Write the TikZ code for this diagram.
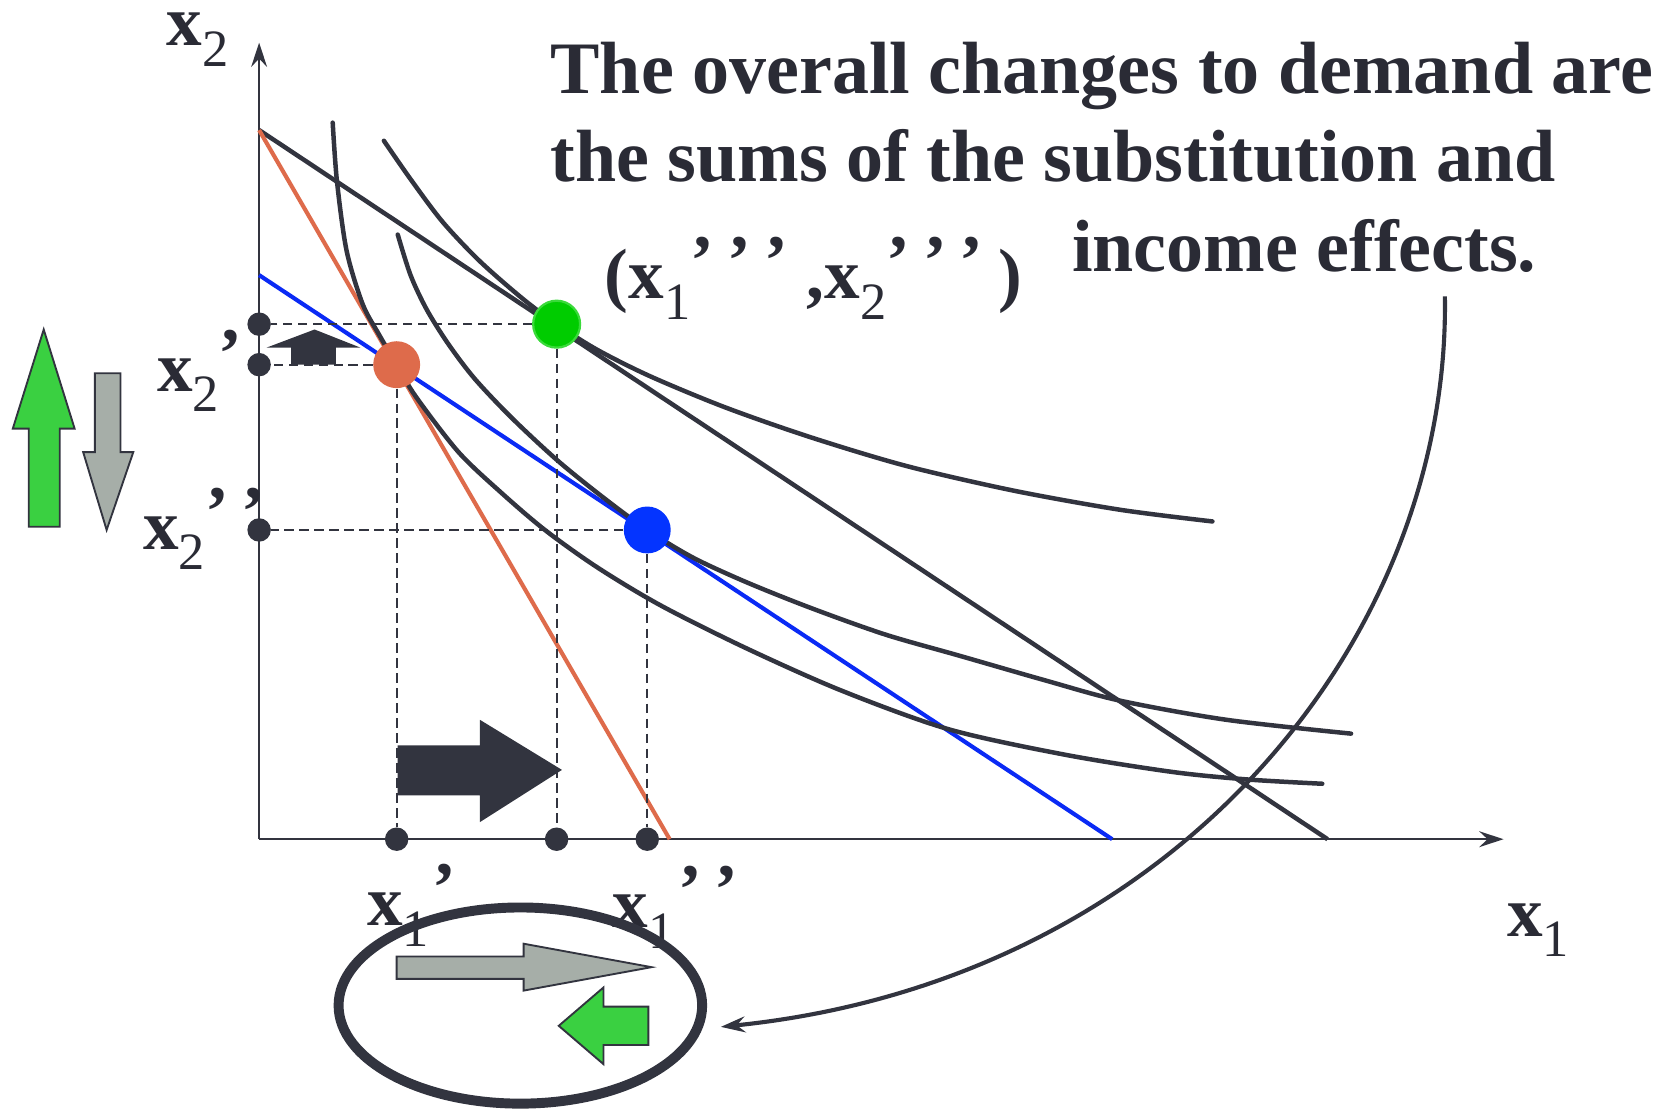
\documentclass[tikz,border=0pt]{standalone}
\usepackage{fontspec}
\setmainfont{Liberation Serif}
\usetikzlibrary{arrows.meta,shapes.geometric}
\definecolor{ink}{HTML}{32343F}
\definecolor{txtc}{HTML}{2A2B35}
\definecolor{orng}{HTML}{DE6B4B}
\definecolor{bline}{HTML}{0A2AF5}
\definecolor{bdot}{HTML}{0434FF}
\definecolor{gdot}{HTML}{00CC00}
\definecolor{gring}{HTML}{3BDA3B}
\definecolor{garrow}{HTML}{3AD041}
\definecolor{grayarrow}{HTML}{A6AEA8}
\newcommand\lbx[1]{\textbf{x}\raisebox{-11pt}{\fontsize{28}{28}\selectfont\mdseries #1}}
\newcommand\myprime{\raisebox{7.5pt}{\textbf{’}}}
\begin{document}
\begin{tikzpicture}[x=0.02cm,y=-0.02cm,
  axis/.style={ink, line width=1.2pt},
  bud/.style={line width=2.2pt},
  icurve/.style={ink, line width=2.4pt, line cap=round},
  guide/.style={ink, line width=1.1pt, dash pattern=on 5pt off 3pt},
  adot/.style={circle, fill=ink, inner sep=0pt, minimum size=0.44cm},
  bigpt/.style={circle, inner sep=0pt, minimum size=0.88cm},
  lbl/.style={inner sep=0pt, anchor=base west, font=\fontsize{38}{46}\selectfont\bfseries, text=txtc},
  txt/.style={inner sep=0pt, anchor=base west, font=\fontsize{39.5}{48}\selectfont\bfseries, text=txtc},
  blk/.style={draw=ink, line width=1pt, line join=miter},
  tip/.style={-{Stealth[length=13pt,width=8.5pt,inset=4.5pt]}}]
\useasboundingbox (0,0) rectangle (1568,1040);

% axes
\coordinate (O) at (243,787);
\coordinate (Ytop) at (243,40);
\coordinate (Xend) at (1410,787);
\draw[axis, tip] (O) -- (Ytop);
\draw[axis, tip] (O) -- (Xend);

% budget lines
\coordinate (A) at (243,122);
\coordinate (Bk) at (1245,787);
\coordinate (Bo) at (628,787);
\coordinate (C) at (243,258);
\coordinate (Cb) at (1043,787);
\draw[bud, ink, line width=2.4pt] (A) -- (Bk);
\draw[bud, orng] (A) -- (Bo);
\draw[bud, bline] (C) -- (Cb);

% indifference curves
\draw[icurve] plot[smooth] coordinates {(312,115) (316,170) (325,235) (340,285) (355,313) (372,342) (390,372) (430,424) (470,462) (511,497) (560,532) (620,568) (700,608) (790,648) (890,684) (1000,708) (1100,724) (1170,731) (1240,735)};
\draw[icurve] plot[smooth] coordinates {(373,220) (385,258) (400,290) (420,322) (445,355) (480,392) (523,432) (565,466) (607,497) (650,523) (700,546) (760,570) (830,595) (900,615) (980,638) (1050,657) (1150,675) (1267,688)};
\draw[icurve] plot[smooth] coordinates {(360,132) (385,168) (415,208) (450,245) (490,280) (522,304) (560,328) (610,353) (680,382) (760,410) (850,437) (950,460) (1050,478) (1137,489)};

% axis dots
\node[adot] (y3) at (243,304) {};
\node[adot] (y1) at (243,342) {};
\node[adot] (y2) at (243,497) {};
\node[adot] (x1) at (372,787) {};
\node[adot] (x3) at (522,787) {};
\node[adot] (x2) at (607,787) {};

% big points
\node[bigpt, fill=gdot, draw=gring, line width=1.2pt] (pG) at (522,304) {};
\node[bigpt, fill=orng] (pR) at (372,342) {};
\node[bigpt, fill=bdot] (pB) at (607,497) {};

% guide lines
\draw[guide] (pG) -- (y3);
\draw[guide] (pG) -- (x3);
\draw[guide] (pR) -- (y1);
\draw[guide] (pR) -- (x1);
\draw[guide] (pB) -- (y2);
\draw[guide] (pB) -- (x2);

% block arrows
\fill[ink] (373,699) -- (450,699) -- (450,675) -- (527,722) -- (450,771) -- (450,746) -- (373,746) -- cycle;
\fill[ink] (273,342) -- (273,326) -- (250,326) -- (295,309) -- (338,326) -- (315,326) -- (315,342) -- cycle;
\filldraw[blk, fill=garrow] (27,494) -- (27,402) -- (12,402) -- (41,309) -- (70,402) -- (56,402) -- (56,494) -- cycle;
\filldraw[blk, fill=grayarrow] (89,350) -- (113,350) -- (113,424) -- (125,424) -- (100,497) -- (78,424) -- (89,424) -- cycle;
\filldraw[blk, fill=grayarrow] (372,897) -- (491,897) -- (491,885) -- (611,907) -- (491,929) -- (491,918) -- (372,918) -- cycle;
\filldraw[blk, fill=garrow] (608,944) -- (566,944) -- (566,926) -- (524,962) -- (566,998) -- (566,980) -- (608,980) -- cycle;

% labels
\node[lbl] (lx2) at (156,43) {\lbx{2}};
\node[lbl] (lx1) at (1413,878) {\lbx{1}};
\node[lbl] (lx2p) at (147,367) {\lbx{2}\myprime};
\node[lbl] (lx2pp) at (134,515) {\lbx{2}\myprime\hspace{7pt}\myprime};
\node[lbl] (lx1p) at (344,868) {\lbx{1}\hspace{2pt}\myprime};
\node[lbl] (lx1pp) at (574,870) {\lbx{1}\hspace{2pt}\myprime\hspace{7pt}\myprime};
\node[lbl] (tuple) at (567,280) {(\lbx{1}\myprime\hspace{7pt}\myprime\hspace{7pt}\myprime\hspace{10pt},\lbx{2}\myprime\hspace{7pt}\myprime\hspace{7pt}\myprime\hspace{8pt})};

% ellipse
\node[draw=ink, line width=5.3pt, ellipse, minimum width=6.82cm, minimum height=3.68cm, inner sep=0pt] (ell) at (488,943) {};

% curved arrow
\coordinate (cstart) at (1355,278);
\coordinate (cend) at (676,963);
\draw[ink, line width=2.2pt, tip] (cstart) .. controls (1360,600) and (1100,920) .. (cend);

% text
\node[txt] (t1) at (516,88) {The overall changes to demand are};
\node[txt] (t2) at (516,170) {the sums of the substitution and};
\node[txt] (t3) at (1005,255) {income effects.};
\end{tikzpicture}
\end{document}
